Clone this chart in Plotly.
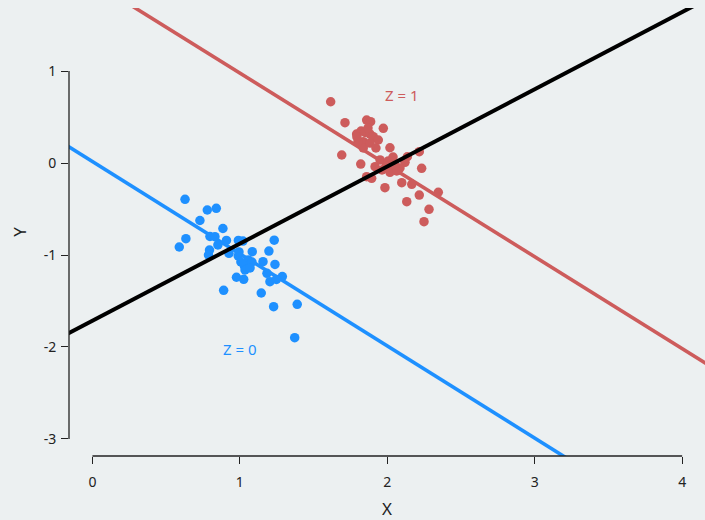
import numpy as np
import plotly.graph_objects as go

# ---- data ----
x_z0 = [0.628, 0.779, 0.840, 0.729, 0.885, 0.634, 0.589, 0.797, 0.831, 0.909,
        0.990, 1.021, 1.233, 0.794, 0.787, 0.926, 1.084, 1.197, 0.989, 1.057,
        1.031, 1.157, 1.238, 1.035, 1.184, 1.288, 0.977, 1.026, 1.204, 1.248,
        0.890, 1.145, 1.229, 1.389, 1.372, 1.082, 1.007, 1.069, 0.851, 0.994]
y_z0 = [-0.395, -0.511, -0.492, -0.625, -0.712, -0.823, -0.913, -0.799, -0.801, -0.842,
        -0.842, -0.848, -0.839, -0.946, -1.000, -0.982, -0.964, -0.957, -1.011, -1.054,
        -1.120, -1.073, -1.103, -1.163, -1.199, -1.234, -1.242, -1.264, -1.290, -1.266,
        -1.384, -1.413, -1.562, -1.536, -1.899, -1.076, -1.076, -1.141, -0.891, -0.967]

x_z1 = [1.616, 1.713, 1.860, 1.887, 1.973, 1.792, 1.822, 1.849, 1.883, 1.905,
        1.837, 1.939, 1.837, 1.883, 1.923, 2.018, 1.691, 1.820, 1.917, 1.951,
        2.007, 2.039, 2.136, 2.120, 2.086, 2.217, 2.233, 1.860, 1.894, 2.018,
        2.064, 2.098, 2.166, 1.984, 2.217, 2.346, 2.132, 2.283, 2.249, 1.801,
        1.869, 2.052, 1.991, 1.964, 1.794]
y_z1 = [0.666, 0.438, 0.467, 0.449, 0.377, 0.315, 0.348, 0.332, 0.315, 0.286,
        0.232, 0.250, 0.163, 0.217, 0.163, 0.166, 0.087, -0.011, -0.040, 0.033,
        0.022, 0.065, 0.068, 0.008, -0.054, 0.123, -0.058, -0.149, -0.166, -0.101,
        -0.087, -0.214, -0.232, -0.268, -0.348, -0.318, -0.421, -0.503, -0.638, 0.228,
        0.380, -0.022, -0.033, -0.076, 0.283]

# fitted lines: Z = 0, Z = 1, pooled
fit_intercepts = [0.015, 1.975, -1.715]
fit_slopes = [-1.002, -0.998, 0.839]

x_ticks = [0, 1, 2, 3, 4]
x_tick_labels = ["0", "1", "2", "3", "4"]
y_ticks = [-3, -2, -1, 0, 1]
y_tick_labels = ["-3", "-2", "-1", "0", "1"]
group_labels = ["Z = 0", "Z = 1"]

# ---- style ----
BLUE = "#1E90FF"
RED = "#CD5C5C"
BG = "#ECF0F1"
INK = "#222222"
FONT = "Noto Sans"

x_range = [-0.159, 4.155]
y_range = [-3.185, 1.685]

fig = go.Figure()

xs = np.array([x_range[0] - 0.5, x_range[1] + 0.5])
line_colors = [BLUE, RED]
for b0, b1, c in zip(fit_intercepts[:2], fit_slopes[:2], line_colors):
    fig.add_trace(go.Scatter(x=xs, y=b0 + b1 * xs, mode="lines",
                             line=dict(color=c, width=3.6), hoverinfo="skip"))

fig.add_trace(go.Scatter(x=x_z0, y=y_z0, mode="markers",
                         marker=dict(color=BLUE, size=9.5, line=dict(width=0))))
fig.add_trace(go.Scatter(x=x_z1, y=y_z1, mode="markers",
                         marker=dict(color=RED, size=9.5, line=dict(width=0))))

# pooled line drawn on top of points
fig.add_trace(go.Scatter(x=xs, y=fit_intercepts[2] + fit_slopes[2] * xs, mode="lines",
                         line=dict(color="#000000", width=4), hoverinfo="skip"))

# group labels
fig.add_annotation(x=1.0, y=-2.02, text=group_labels[0], showarrow=False,
                   font=dict(color=BLUE, size=15, family=FONT))
fig.add_annotation(x=2.10, y=0.74, text=group_labels[1], showarrow=False,
                   font=dict(color=RED, size=15, family=FONT))

# offset axis lines (only spanning tick range)
fig.add_shape(type="line", xref="x", yref="paper", x0=x_ticks[0], x1=x_ticks[-1],
              y0=0, y1=0, line=dict(color=INK, width=1.3))
fig.add_shape(type="line", xref="paper", yref="y", x0=0, x1=0,
              y0=y_ticks[0], y1=y_ticks[-1], line=dict(color=INK, width=1.3))

fig.update_layout(
    width=705, height=520,
    margin=dict(l=69, r=0, t=8, b=64),
    paper_bgcolor=BG, plot_bgcolor=BG,
    showlegend=False,
    font=dict(family=FONT, size=14, color=INK),
    xaxis=dict(range=x_range, tickvals=x_ticks, ticktext=x_tick_labels,
               ticks="outside", ticklen=7,
               tickwidth=1.3, tickcolor=INK, showgrid=False, zeroline=False,
               showline=False, title=dict(text="X", standoff=14),
               ticklabelstandoff=6, automargin=False),
    yaxis=dict(range=y_range, tickvals=y_ticks, ticktext=y_tick_labels,
               ticks="outside", ticklen=7,
               tickwidth=1.3, tickcolor=INK, showgrid=False, zeroline=False,
               showline=False, title=dict(text="Y", standoff=12),
               ticklabelstandoff=2, automargin=False),
)

fig.write_html(
    "out.html",
    config={"displayModeBar": False},
    post_script="document.body.style.margin='0';document.body.style.background='%s';" % BG,
)
